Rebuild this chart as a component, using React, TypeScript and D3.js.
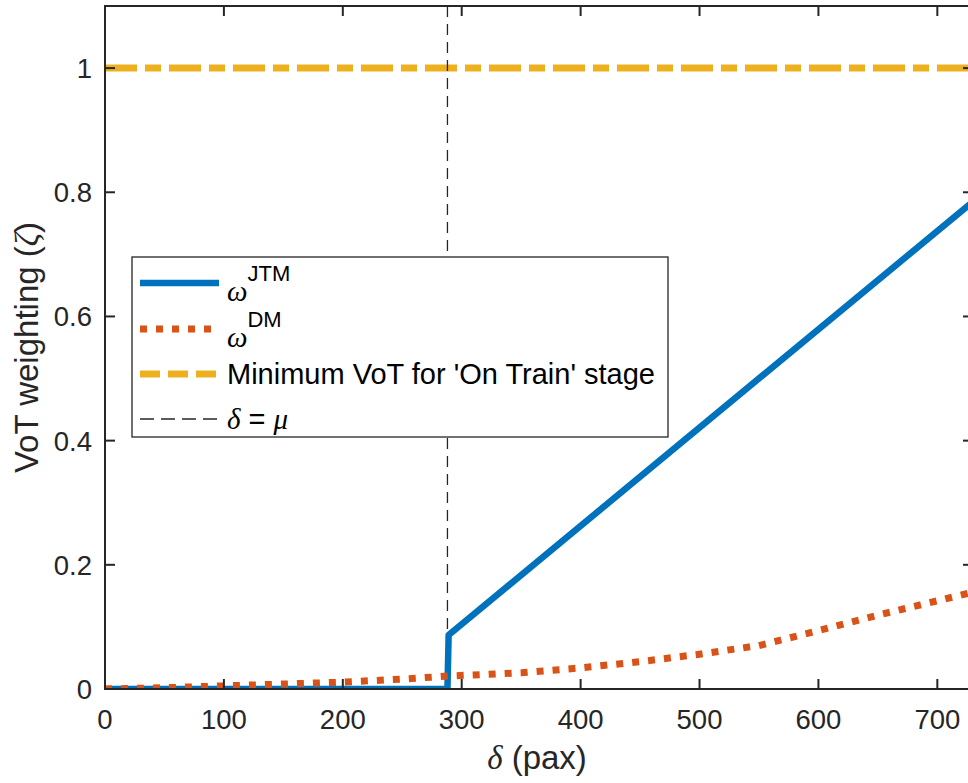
import React from 'react';
import * as d3 from 'd3';

// delta (pax) sample points and VoT weightings
const jtmDelta = [0, 288, 289, 730];
const jtmValue = [0, 0, 0.087, 0.785];

const dmDelta = [0, 50, 100, 150, 200, 250, 290, 350, 400, 450, 500, 550, 600, 650, 700, 730];
const dmValue = [0, 0.002, 0.005, 0.008, 0.011, 0.016, 0.021, 0.026, 0.034, 0.044, 0.056, 0.07, 0.094, 0.119, 0.142, 0.156];

const minVoT = 1;
const mu = 288;

const xTicks = [0, 100, 200, 300, 400, 500, 600, 700];
const yTicks = [0, 0.2, 0.4, 0.6, 0.8, 1];
const yTickLabels = ['0', '0.2', '0.4', '0.6', '0.8', '1'];

const width = 968;
const height = 783;
const left = 105;
const right = 973;
const top = 6;
const bottom = 689;

const blue = '#0072BD';
const orange = '#D95319';
const yellow = '#EDB120';
const axisColor = '#262626';
const sans = "'Liberation Sans', Arial, Helvetica, sans-serif";
const serif = "'Liberation Serif', 'Times New Roman', serif";

const x = d3.scaleLinear().domain([0, 730]).range([left, right]);
const y = d3.scaleLinear().domain([0, 1.1]).range([bottom, top]);

const line = d3
  .line<[number, number]>()
  .x(d => x(d[0]))
  .y(d => y(d[1]));

const jtmPath = line(jtmDelta.map((d, i) => [d, jtmValue[i]]));
const dmPath = line(dmDelta.map((d, i) => [d, dmValue[i]]));
const minPath = line([[0, minVoT], [730, minVoT]]);

const tickLen = 10;

const App = () => {
  // legend layout
  const lx = 132, ly = 257, lw = 536, lh = 180;
  const rows = [283, 329, 374, 419];
  const sx0 = 140, sx1 = 219, tx = 227;

  return (
    <svg
      width={width}
      height={height}
      style={{ position: 'absolute', left: 0, top: 0, background: '#fff' }}
      fontFamily={sans}
    >
      <defs>
        <clipPath id="plot">
          <rect x={left} y={top} width={right - left} height={bottom - top} />
        </clipPath>
      </defs>

      {/* data */}
      <g clipPath="url(#plot)" fill="none">
        <path d={minPath} stroke={yellow} strokeWidth={7} strokeDasharray="32 8 16 8" />
        <line x1={x(mu)} x2={x(mu)} y1={top} y2={bottom} stroke={axisColor} strokeWidth={1.3} strokeDasharray="11 7" />
        <path d={jtmPath} stroke={blue} strokeWidth={6.5} strokeLinejoin="round" />
        <path d={dmPath} stroke={orange} strokeWidth={7} strokeDasharray="7 9" />
      </g>

      {/* axes box */}
      <g stroke={axisColor} strokeWidth={2} fill="none">
        <rect x={left} y={top} width={right - left} height={bottom - top} />
        {xTicks.map(t => (
          <g key={'x' + t}>
            <line x1={x(t)} x2={x(t)} y1={bottom} y2={bottom - tickLen} />
            <line x1={x(t)} x2={x(t)} y1={top} y2={top + tickLen} />
          </g>
        ))}
        {yTicks.map(t => (
          <g key={'y' + t}>
            <line x1={left} x2={left + tickLen} y1={y(t)} y2={y(t)} />
            <line x1={right} x2={right - tickLen} y1={y(t)} y2={y(t)} />
          </g>
        ))}
      </g>

      {/* tick labels */}
      <g fill={axisColor} fontSize={27.5}>
        {xTicks.map(t => (
          <text key={'xl' + t} x={x(t)} y={729} textAnchor="middle">{t}</text>
        ))}
        {yTicks.map((t, i) => (
          <text key={'yl' + t} x={92} y={y(t) + 10} textAnchor="end">{yTickLabels[i]}</text>
        ))}
      </g>

      {/* axis labels */}
      <text x={(left + right) / 2 - 2} y={769} textAnchor="middle" fontSize={33} fill={axisColor}>
        <tspan fontFamily={serif} fontStyle="italic">δ</tspan> (pax)
      </text>
      <text
        transform={`translate(38,${(top + bottom) / 2}) rotate(-90)`}
        textAnchor="middle"
        fontSize={33}
        fill={axisColor}
      >
        VoT weighting (<tspan fontFamily={serif} fontStyle="italic">ζ</tspan>)
      </text>

      {/* legend */}
      <g>
        <rect x={lx} y={ly} width={lw} height={lh} fill="#fff" stroke={axisColor} strokeWidth={1.3} />
        <line x1={sx0} x2={sx1} y1={rows[0]} y2={rows[0]} stroke={blue} strokeWidth={6.5} />
        <line x1={sx0} x2={sx1} y1={rows[1]} y2={rows[1]} stroke={orange} strokeWidth={7} strokeDasharray="7 9" />
        <line x1={sx0} x2={sx1} y1={rows[2]} y2={rows[2]} stroke={yellow} strokeWidth={7} strokeDasharray="20 8" />
        <line x1={sx0} x2={sx1} y1={rows[3]} y2={rows[3]} stroke={axisColor} strokeWidth={1.3} strokeDasharray="14 7" />

        <g fill="#000" fontSize={29}>
          <text x={tx} y={rows[0] + 18}>
            <tspan fontFamily={serif} fontStyle="italic">ω</tspan>
            <tspan dy={-20} fontSize={22}>JTM</tspan>
          </text>
          <text x={tx} y={rows[1] + 18}>
            <tspan fontFamily={serif} fontStyle="italic">ω</tspan>
            <tspan dy={-20} fontSize={22}>DM</tspan>
          </text>
          <text x={tx} y={rows[2] + 10}>Minimum VoT for 'On Train' stage</text>
          <text x={tx} y={rows[3] + 10}>
            <tspan fontFamily={serif} fontStyle="italic">δ</tspan> = <tspan fontFamily={serif} fontStyle="italic">μ</tspan>
          </text>
        </g>
      </g>
    </svg>
  );
};

export default App;
